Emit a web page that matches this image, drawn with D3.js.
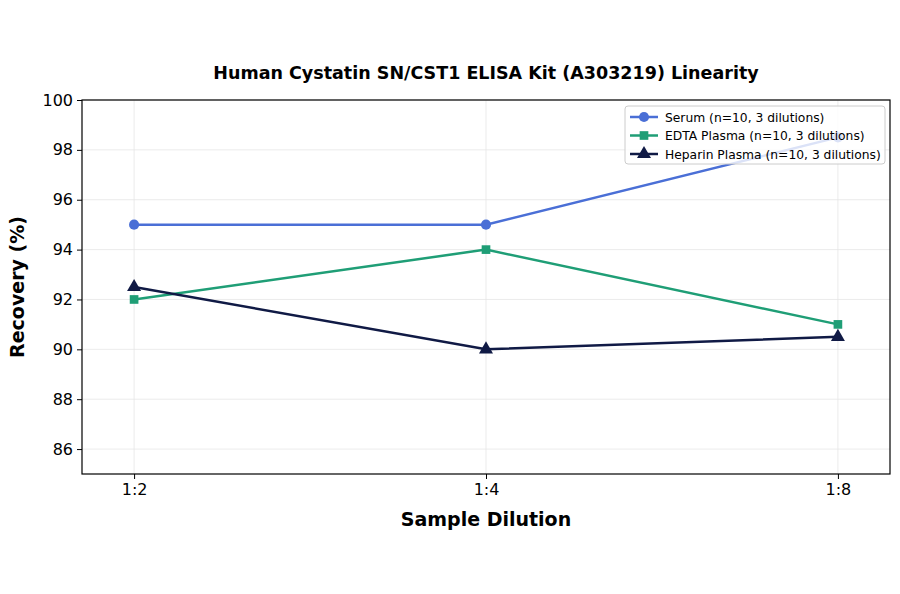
<!DOCTYPE html><html><head><meta charset="utf-8"><script src="https://cdn.jsdelivr.net/npm/d3@7"></script>
<style>body{margin:0;background:#fff;font-family:"DejaVu Sans",sans-serif}</style></head><body><svg id="c" width="900" height="594"></svg>
<script>
const categories=["1:2","1:4","1:8"];
const serum=[95,95,98.5];
const edta=[92,94,91];
const heparin=[92.5,90,90.5];
const yTicks=[86,88,90,92,94,96,98,100];
const seriesNames=["Serum (n=10, 3 dilutions)","EDTA Plasma (n=10, 3 dilutions)","Heparin Plasma (n=10, 3 dilutions)"];
const colors=["#4a6fd6","#1f9e76","#101a45"];
const svg=d3.select("#c");
const L=82,R=890,T=100,B=474;
const x=d3.scalePoint().domain(categories).range([L,R]).padding(0.148);
const y=d3.scaleLinear().domain([85,100]).range([B,T]);
const g=svg.append("g");
yTicks.forEach(t=>g.append("line").attr("x1",L).attr("x2",R).attr("y1",y(t)).attr("y2",y(t)).attr("stroke","#e6e6e6").attr("stroke-width",0.8));
categories.forEach(c=>g.append("line").attr("x1",x(c)).attr("x2",x(c)).attr("y1",T).attr("y2",B).attr("stroke","#e6e6e6").attr("stroke-width",0.8));
svg.append("clipPath").attr("id","cp").append("rect").attr("x",L).attr("y",T).attr("width",R-L).attr("height",B-T);
const data=[serum,edta,heparin];
const shapes=[d3.symbolCircle,d3.symbolSquare,d3.symbolTriangle];
const sizes=[80,75,85];
const pg=svg.append("g").attr("clip-path","url(#cp)");
data.forEach((s,i)=>{
 pg.append("path").datum(s).attr("fill","none").attr("stroke",colors[i]).attr("stroke-width",2.5)
  .attr("d",d3.line().x((d,j)=>x(categories[j])).y(d=>y(d)));
 s.forEach((d,j)=>pg.append("path").attr("d",d3.symbol(shapes[i],sizes[i])()).attr("transform",`translate(${x(categories[j])},${y(d)})`).attr("fill",colors[i]));
});
svg.append("rect").attr("x",L).attr("y",T).attr("width",R-L).attr("height",B-T).attr("fill","none").attr("stroke","#000").attr("stroke-width",1.2);
const ya=svg.append("g").attr("transform",`translate(${L},0)`).call(d3.axisLeft(y).tickValues(yTicks).tickSize(5).tickPadding(4));
const xa=svg.append("g").attr("transform",`translate(0,${B})`).call(d3.axisBottom(x).tickSize(5).tickPadding(5));
[ya,xa].forEach(a=>{a.select(".domain").remove();a.selectAll("text").attr("font-size",16).attr("fill","#000").attr("font-family","DejaVu Sans");});
svg.append("text").attr("x",486).attr("y",79).attr("text-anchor","middle").attr("font-size",17.5).attr("font-weight","bold").text("Human Cystatin SN/CST1 ELISA Kit (A303219) Linearity");
svg.append("text").attr("x",486).attr("y",526).attr("text-anchor","middle").attr("font-size",19).attr("font-weight","bold").text("Sample Dilution");
svg.append("text").attr("transform","translate(24,287) rotate(-90)").attr("text-anchor","middle").attr("font-size",19).attr("font-weight","bold").text("Recovery (%)");
const lg=svg.append("g").attr("transform","translate(625,106)");
lg.append("rect").attr("width",260).attr("height",58).attr("rx",3).attr("fill","#fff").attr("fill-opacity",0.8).attr("stroke","#ccc");
seriesNames.forEach((n,i)=>{
 const yy=11+i*18.5;
 lg.append("line").attr("x1",5).attr("x2",33).attr("y1",yy).attr("y2",yy).attr("stroke",colors[i]).attr("stroke-width",2.5);
 lg.append("path").attr("d",d3.symbol(shapes[i],sizes[i])()).attr("transform",`translate(19,${yy})`).attr("fill",colors[i]);
 lg.append("text").attr("x",40).attr("y",yy+4.5).attr("font-size",12.3).text(n);
});
</script></body></html>
